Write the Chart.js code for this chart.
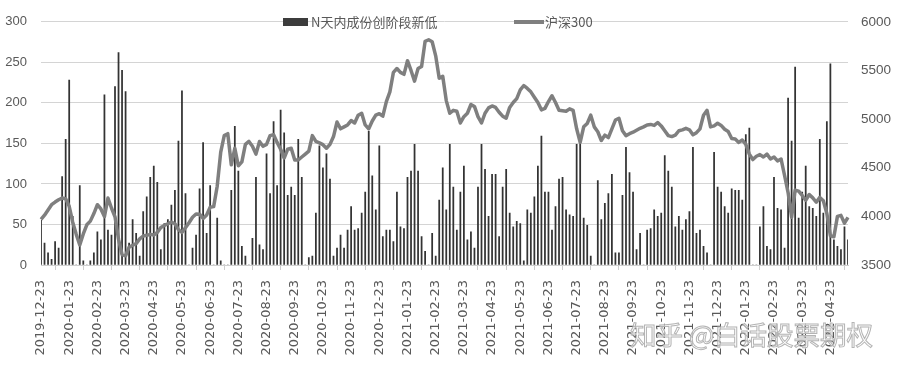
<!DOCTYPE html>
<html>
<head>
<meta charset="utf-8">
<script src="https://cdn.jsdelivr.net/npm/chart.js@4.4.0/dist/chart.umd.min.js"></script>
<style>
  html, body { margin: 0; padding: 0; background: #ffffff; }
  #wrap { position: relative; width: 900px; height: 368px; }
  .lg { position: absolute; font: 13px 'Noto Sans CJK SC', sans-serif; color: #595959; line-height: 14px; }
  .mark { position: absolute; left: 630px; top: 314px; font: 26.5px 'Noto Sans CJK SC', sans-serif;
          color: rgba(255,255,255,0.6); -webkit-text-stroke: 1px #b4b4b4; white-space: nowrap; }
</style>
</head>
<body>
<div id="wrap">
  <canvas id="chart"></canvas>
  <div style="position:absolute;left:283px;top:18px;width:25px;height:8px;background:#3c3c3c"></div>
  <div class="lg" style="left:311px;top:15px">N天内成份创阶段新低</div>
  <div style="position:absolute;left:514px;top:20px;width:30px;height:4px;background:#7f7f7f"></div>
  <div class="lg" style="left:545px;top:15px">沪深300</div>
  <div class="mark">知乎 @白话股票期权</div>
</div>
<script>
// month tick labels (one every 8 points)
var monthLabels = ['2019-12-23', '2020-01-23', '2020-02-23', '2020-03-23', '2020-04-23', '2020-05-23',
	'2020-06-23', '2020-07-23', '2020-08-23', '2020-09-23', '2020-10-23', '2020-11-23', '2020-12-23',
	'2021-01-23', '2021-02-23', '2021-03-23', '2021-04-23', '2021-05-23', '2021-06-23', '2021-07-23',
	'2021-08-23', '2021-09-23', '2021-10-23', '2021-11-23', '2021-12-23', '2022-01-23', '2022-02-23',
	'2022-03-23', '2022-04-23'];

// N天内成份创阶段新低
var lowCount = [
	55, 27, 15, 7, 29, 21, 109, 155, 228, 60,
	0, 98, 5, 0, 5, 15, 41, 31, 210, 43,
	37, 220, 262, 240, 214, 27, 56, 39, 11, 66,
	84, 108, 122, 102, 19, 51, 56, 74, 92, 153,
	215, 88, 0, 21, 37, 94, 151, 39, 98, 0,
	58, 5, 0, 0, 92, 171, 116, 23, 11, 0,
	33, 108, 25, 19, 137, 88, 177, 98, 191, 163,
	86, 96, 86, 155, 108, 0, 9, 11, 64, 147,
	120, 137, 106, 11, 21, 37, 21, 43, 72, 43,
	45, 64, 90, 165, 110, 68, 147, 35, 43, 43,
	29, 90, 47, 45, 108, 116, 149, 116, 35, 17,
	0, 39, 11, 80, 120, 68, 149, 96, 43, 90,
	122, 31, 41, 21, 96, 149, 118, 60, 112, 112,
	35, 96, 118, 64, 47, 54, 51, 5, 68, 64,
	84, 122, 159, 90, 90, 43, 72, 106, 108, 68,
	62, 60, 149, 151, 58, 49, 11, 0, 104, 56,
	76, 88, 112, 15, 15, 86, 145, 114, 90, 19,
	39, 0, 43, 45, 68, 60, 64, 135, 116, 96,
	47, 60, 43, 56, 66, 145, 39, 43, 23, 15,
	0, 139, 96, 90, 72, 64, 94, 92, 92, 80,
	161, 169, 0, 0, 47, 72, 23, 19, 108, 70,
	68, 21, 206, 153, 244, 58, 90, 122, 72, 70,
	60, 155, 64, 177, 248, 31, 23, 19, 47, 31
];

// 沪深300
var hs300 = [
	3968, 4012, 4066, 4120, 4147, 4171, 4188, 4181, 4103, 3940,
	3815, 3707, 3819, 3913, 3951, 4029, 4120, 4076, 3998, 4188,
	4086, 3995, 3764, 3608, 3595, 3683, 3703, 3720, 3768, 3798,
	3805, 3815, 3808, 3835, 3886, 3907, 3924, 3940, 3924, 3863,
	3835, 3883, 3934, 3991, 4025, 4022, 3978, 4015, 4093, 4100,
	4310, 4660, 4830, 4850, 4530, 4700, 4520, 4560, 4740, 4770,
	4720, 4640, 4770, 4720, 4740, 4830, 4840, 4760, 4690, 4600,
	4690, 4700, 4580, 4580, 4610, 4640, 4670, 4830, 4770, 4755,
	4737, 4700, 4740, 4820, 4970, 4900, 4920, 4940, 4985, 4960,
	5040, 5060, 4940, 4900, 4980, 5040, 5055, 5030, 5180, 5280,
	5480, 5520, 5480, 5460, 5600, 5500, 5390, 5520, 5540, 5800,
	5815, 5795, 5650, 5420, 5440, 5190, 5060, 5090, 5080, 4960,
	5025, 5060, 5150, 5130, 5025, 4960, 5060, 5115, 5135, 5120,
	5070, 5030, 5010, 5120, 5170, 5210, 5300, 5345, 5315, 5280,
	5225, 5170, 5095, 5110, 5180, 5240, 5170, 5090, 5085, 5080,
	5105, 5090, 4900, 4760, 4920, 4955, 5040, 4920, 4870, 4780,
	4835, 4810, 4900, 4990, 5008, 4880, 4830, 4850, 4865, 4885,
	4905, 4920, 4940, 4945, 4935, 4965, 4930, 4880, 4830, 4820,
	4835, 4880, 4889, 4905, 4890, 4838, 4860, 4900, 5040, 5090,
	4920, 4930, 4957, 4935, 4895, 4872, 4800, 4795, 4760, 4785,
	4740, 4640, 4584, 4618, 4635, 4610, 4640, 4590, 4610, 4570,
	4590, 4420, 4245, 3990, 4270, 4260, 4215, 4165, 4225, 4190,
	4145, 4195, 4160, 4030, 3800, 3790, 4000, 4010, 3930, 3990
];

var labels = hs300.map(function(v, i) {
	return i % 8 === 0 ? monthLabels[i / 8] : '';
});

var grey = '#595959';

var ctx = document.getElementById('chart').getContext('2d');
var chart = new Chart(ctx, {
	type: 'bar',
	data: {
		labels: labels,
		datasets: [
			{
				type: 'line',
				label: '沪深300',
				data: hs300,
				yAxisID: 'y1',
				borderColor: '#7f7f7f',
				borderWidth: 3.5,
				pointRadius: 0,
				tension: 0,
				borderJoinStyle: 'round',
				order: 0
			},
			{
				type: 'bar',
				label: 'N天内成份创阶段新低',
				data: lowCount,
				yAxisID: 'y',
				backgroundColor: '#333333',
				barThickness: 1.1,
				order: 1
			}
		]
	},
	options: {
		responsive: true,
		maintainAspectRatio: false,
		animation: false,
		layout: { padding: { top: 19, left: 0, right: 0, bottom: 0 } },
		plugins: {
			legend: { display: false },
			tooltip: { enabled: false }
		},
		scales: {
			x: {
				offset: false,
				grid: { drawOnChartArea: false, drawTicks: true, tickLength: 5, color: '#cfcfcf' },
				border: { display: true, color: '#cfcfcf' },
				ticks: {
					autoSkip: false,
					minRotation: 90,
					maxRotation: 90,
					padding: 10,
					color: grey,
					font: { family: "'DejaVu Sans', sans-serif", size: 13 },
					callback: function(value) {
						var l = this.getLabelForValue(value);
						return l ? l : null;
					}
				},
				afterFit: function(scale) { scale.height = 103; }
			},
			y: {
				position: 'left',
				min: 0,
				max: 300,
				grid: { color: '#d4d4d4', drawTicks: false },
				border: { display: false },
				ticks: {
					stepSize: 50,
					padding: 14,
					color: grey,
					font: { family: "'Liberation Sans', sans-serif", size: 13 }
				},
				afterFit: function(scale) { scale.width = 41; }
			},
			y1: {
				position: 'right',
				min: 3500,
				max: 6000,
				grid: { drawOnChartArea: false, drawTicks: false },
				border: { display: false },
				ticks: {
					stepSize: 500,
					padding: 13,
					color: grey,
					font: { family: "'Liberation Sans', sans-serif", size: 13.5 },
					callback: function(value) { return String(value); }
				},
				afterFit: function(scale) { scale.width = 52; }
			}
		}
	}
});
</script>
</body>
</html>
